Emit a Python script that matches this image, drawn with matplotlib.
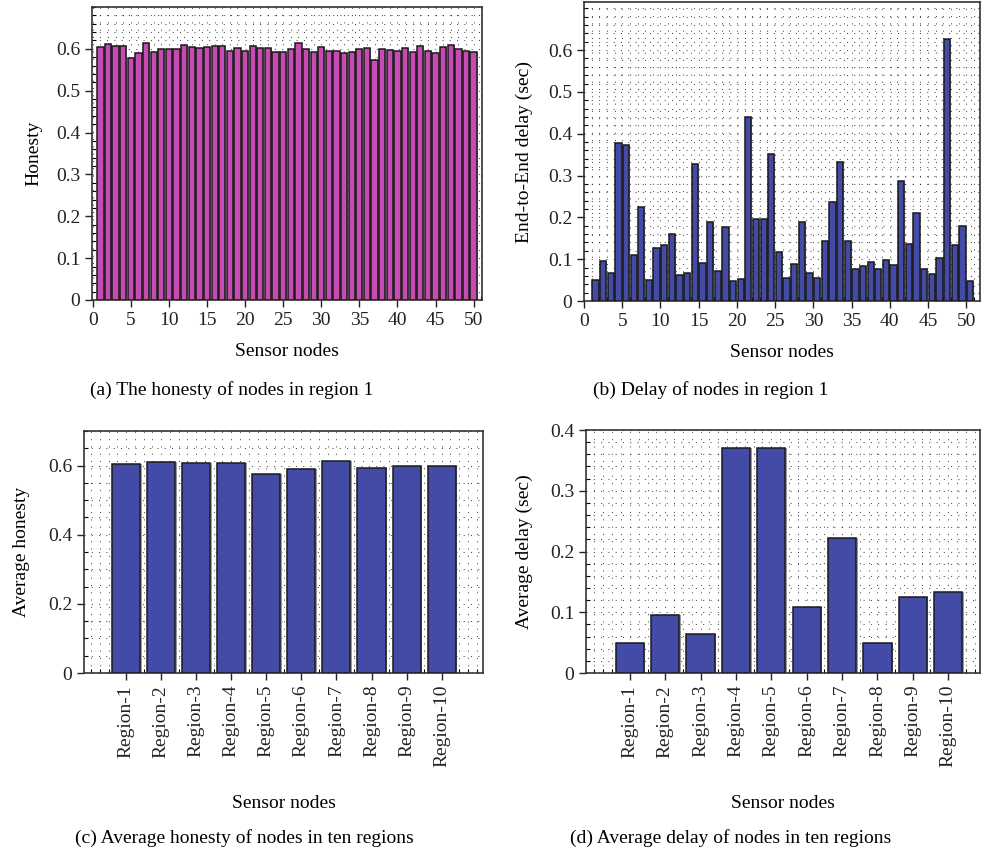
import matplotlib
matplotlib.use("Agg")
import matplotlib.pyplot as plt
from matplotlib.ticker import MultipleLocator

plt.rcParams['font.family'] = ['Liberation Serif', 'DejaVu Serif']

# ---- data ----
nodes = list(range(1, 51))
honesty = [0.605, 0.611, 0.608, 0.608, 0.577, 0.590, 0.614, 0.593, 0.599, 0.599,
           0.600, 0.610, 0.605, 0.601, 0.604, 0.607, 0.607, 0.595, 0.602, 0.594,
           0.607, 0.601, 0.602, 0.593, 0.592, 0.600, 0.614, 0.600, 0.593, 0.605,
           0.596, 0.594, 0.591, 0.592, 0.600, 0.602, 0.573, 0.600, 0.598, 0.595,
           0.602, 0.592, 0.608, 0.596, 0.589, 0.604, 0.610, 0.600, 0.595, 0.593]
delay = [0.050, 0.096, 0.066, 0.377, 0.374, 0.109, 0.225, 0.050, 0.127, 0.134,
         0.160, 0.063, 0.068, 0.328, 0.090, 0.189, 0.072, 0.177, 0.049, 0.053,
         0.440, 0.196, 0.196, 0.351, 0.116, 0.056, 0.088, 0.188, 0.067, 0.054,
         0.143, 0.237, 0.332, 0.143, 0.077, 0.084, 0.094, 0.076, 0.097, 0.086,
         0.286, 0.136, 0.210, 0.076, 0.065, 0.104, 0.627, 0.135, 0.180, 0.048]
regions = ["Region-%d" % i for i in range(1, 11)]
region_honesty = [0.605, 0.611, 0.608, 0.608, 0.577, 0.590, 0.614, 0.593, 0.599, 0.599]
region_delay = [0.049, 0.095, 0.065, 0.371, 0.370, 0.108, 0.223, 0.049, 0.1255, 0.133]

MAGENTA = "#C64BB2"
BLUE = "#444BA6"
EDGE = "#1a1a1a"
SHADOW = "#9a9a9a"
FS = 14

W, H = 982, 855
fig = plt.figure(figsize=(W / 100, H / 100), dpi=100)


def axes_px(left, top, right, bottom):
    return fig.add_axes([left / W, 1 - bottom / H, (right - left) / W, (bottom - top) / H])


def style(ax, xminor, yminor):
    for s in ax.spines.values():
        s.set_linewidth(1.2)
        s.set_color("#333333")
    ax.set_axisbelow(True)
    if xminor:
        ax.xaxis.set_minor_locator(MultipleLocator(xminor))
    ax.yaxis.set_minor_locator(MultipleLocator(yminor))
    ax.grid(True, which="both", linestyle=(0, (1, 6)), color="#222222",
            linewidth=0.75, alpha=0.8)
    ax.tick_params(which="major", direction="out", length=5, width=1.0,
                   labelsize=FS, colors="#222222")
    ax.tick_params(which="minor", direction="in", length=3, width=0.8)
    ax.tick_params(axis="both", which="both", top=False, right=False)


def bars(ax, x, y, width, color, shade):
    # thin grey shading on the right side of each bar
    ax.bar([v + shade for v in x], y, width=width, color=SHADOW, edgecolor="none", zorder=2)
    ax.bar(x, y, width=width, color=color, edgecolor=EDGE, linewidth=1.1, zorder=3)


# (a) honesty of nodes in region 1
ax1 = axes_px(92, 7, 482, 300)
bars(ax1, nodes, honesty, 0.82, MAGENTA, 0.1)
ax1.set_xlim(-0.1, 51.1)
ax1.set_ylim(0, 0.7)
ax1.set_xticks(range(0, 51, 5))
ax1.set_yticks([0, 0.1, 0.2, 0.3, 0.4, 0.5, 0.6])
ax1.set_yticklabels(["0", "0.1", "0.2", "0.3", "0.4", "0.5", "0.6"])
style(ax1, 1, 0.02)
ax1.set_xlabel("Sensor nodes", fontsize=FS, labelpad=10)
ax1.set_ylabel("Honesty", fontsize=FS, labelpad=10)

# (b) delay of nodes in region 1
ax2 = axes_px(584, 2, 980, 301)
bars(ax2, [n + 0.5 for n in nodes], delay, 0.82, BLUE, 0.1)
ax2.set_xlim(0, 51.8)
ax2.set_ylim(0, 0.715)
ax2.set_xticks(range(0, 51, 5))
ax2.set_yticks([0, 0.1, 0.2, 0.3, 0.4, 0.5, 0.6])
ax2.set_yticklabels(["0", "0.1", "0.2", "0.3", "0.4", "0.5", "0.6"])
style(ax2, 1, 0.02)
ax2.set_xlabel("Sensor nodes", fontsize=FS, labelpad=10)
ax2.set_ylabel("End-to-End delay (sec)", fontsize=FS, labelpad=11)

# (c) average honesty per region
pos = list(range(1, 11))
ax3 = axes_px(84, 431, 483, 673)
bars(ax3, pos, region_honesty, 0.8, BLUE, 0.04)
ax3.set_xlim(-0.2, 11.18)
ax3.set_ylim(0, 0.7)
ax3.set_xticks(pos)
ax3.set_xticklabels(regions, rotation=90)
ax3.set_yticks([0, 0.2, 0.4, 0.6])
ax3.set_yticklabels(["0", "0.2", "0.4", "0.6"])
style(ax3, 0.25, 0.05)
ax3.set_xlabel("Sensor nodes", fontsize=FS, labelpad=20)
ax3.set_ylabel("Average honesty", fontsize=FS, labelpad=13)

# (d) average delay per region
ax4 = axes_px(586, 430, 980, 673)
bars(ax4, pos, region_delay, 0.8, BLUE, 0.04)
ax4.set_xlim(-0.24, 10.9)
ax4.set_ylim(0, 0.4)
ax4.set_xticks(pos)
ax4.set_xticklabels(regions, rotation=90)
ax4.set_yticks([0, 0.1, 0.2, 0.3, 0.4])
ax4.set_yticklabels(["0", "0.1", "0.2", "0.3", "0.4"])
style(ax4, 0.25, 0.02)
ax4.set_xlabel("Sensor nodes", fontsize=FS, labelpad=20)
ax4.set_ylabel("Average delay (sec)", fontsize=FS, labelpad=12)

# captions
fig.text(90 / W, 1 - 390 / H, "(a) The honesty of nodes in region 1", fontsize=FS, va="center", ha="left")
fig.text(593 / W, 1 - 390 / H, "(b) Delay of nodes in region 1", fontsize=FS, va="center", ha="left")
fig.text(75 / W, 1 - 838 / H, "(c) Average honesty of nodes in ten regions", fontsize=FS, va="center", ha="left")
fig.text(570 / W, 1 - 838 / H, "(d) Average delay of nodes in ten regions", fontsize=FS, va="center", ha="left")

fig.savefig("out.png", dpi=100)
